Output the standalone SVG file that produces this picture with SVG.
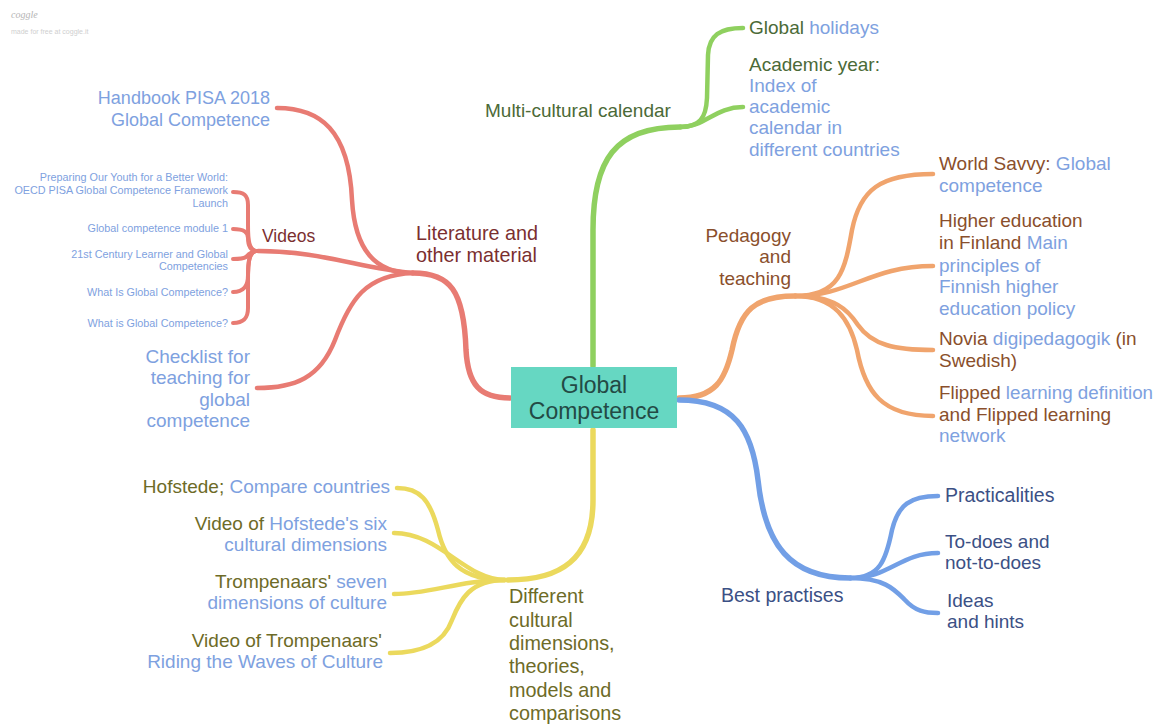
<svg xmlns="http://www.w3.org/2000/svg" width="1155" height="724" viewBox="0 0 1155 724">
<style>
text{font-family:"Liberation Sans",Arial,sans-serif;font-size:19px}
.c{fill:none;stroke-linecap:round;stroke-linejoin:round}
.m{stroke-width:5.5}
.s{stroke-width:4.5}
.r{stroke:#e87b73}
.g{stroke:#8fd05f}
.o{stroke:#f0a46d}
.b{stroke:#729fe6}
.y{stroke:#ebd95d}
.lk{fill:#7ea1e0}
.tr{fill:#7b2f2f}
.tg{fill:#4b6a37}
.to{fill:#8a4f2c}
.tb{fill:#3b5085}
.ty{fill:#6d6b27}
.e{text-anchor:end}
.sm{font-size:10.8px}
</style>
<rect width="1155" height="724" fill="#ffffff"/>
<g id="logo">
<text x="11" y="18" style="font-size:10px;font-style:italic;fill:#b5b5b5;font-family:'Liberation Serif',serif">coggle</text>
<text x="11" y="34" style="font-size:7px;fill:#cfcfcf">made for free at coggle.it</text>
</g>
<g id="connectors">
<path class="c m g" d="M593,366 L593,230 C593,160 615,127 680,127"/>
<path class="c s g" d="M680,127 C700,127 706,118 707,98 L708,55 C709,35 720,28 743,28"/>
<path class="c s g" d="M680,127 C705,127 715,107 743,107"/>
<path class="c m o" d="M679,398 C715,398 725,380 732,350 C740,310 755,296 795,296"/>
<path class="c s o" d="M795,296 C840,296 845,270 852,230 C860,190 880,174 933,174"/>
<path class="c s o" d="M795,296 C850,296 870,266 933,266"/>
<path class="c s o" d="M795,296 C835,296 848,310 858,325 C872,345 895,350 933,350"/>
<path class="c s o" d="M795,296 C835,296 850,320 857,350 C865,392 882,416 933,416"/>
<path class="c m b" d="M679,400 C735,400 752,430 758,480 C765,545 790,578 850,578"/>
<path class="c s b" d="M850,578 C880,578 886,560 892,530 C898,505 910,496 938,496"/>
<path class="c s b" d="M850,578 C890,578 900,553 938,553"/>
<path class="c s b" d="M850,578 C885,578 895,590 905,600 C915,611 925,613 938,613"/>
<path class="c m y" d="M593,430 L593,500 C593,560 560,580 508,580"/>
<path class="c s y" d="M505,580 C460,580 445,560 438,530 C430,500 420,488 397,488"/>
<path class="c s y" d="M505,580 C465,580 440,533 394,533"/>
<path class="c s y" d="M505,580 C460,580 430,594 394,594"/>
<path class="c s y" d="M505,580 C470,580 460,600 452,620 C443,645 420,653 390,653"/>
<path class="c m r" d="M510,398 C480,398 468,385 466,350 C464,290 450,273 413,273"/>
<path class="c s r" d="M413,273 C375,273 355,250 352,200 C349,130 320,108 277,108"/>
<path class="c s r" d="M413,273 C360,268 320,251 258,251"/>
<path class="c s r" d="M413,273 C365,275 350,300 335,340 C320,378 295,388 257,388"/>
<path class="c r" stroke-width="4" d="M256,251 C249,250 248,240 248,225 L248,205 C248,195 244,192 233,192"/>
<path class="c r" stroke-width="4" d="M256,251 C249,250 248,244 248,238 C248,232 244,229 233,229"/>
<path class="c r" stroke-width="4" d="M256,251 C250,252 248,255 246,257 C243,259 238,259 233,259"/>
<path class="c r" stroke-width="4" d="M256,251 C249,252 248,262 248,275 C248,286 244,292 233,292"/>
<path class="c r" stroke-width="4" d="M256,251 C249,252 248,262 248,280 L248,308 C248,318 244,323 233,323"/>
</g>
<g id="center">
<rect x="511" y="367" width="166" height="61" fill="#66d7c2"/>
<text x="594" y="393" text-anchor="middle" style="font-size:23px;fill:#234a45">Global</text>
<text x="594" y="419" text-anchor="middle" style="font-size:23px;fill:#234a45">Competence</text>
</g>
<g id="multicultural-calendar">
<text x="485" y="117" class="tg">Multi-cultural calendar</text>
</g>
<g id="global-holidays">
<text x="749" y="34" class="tg">Global <tspan class="lk">holidays</tspan></text>
</g>
<g id="academic-year">
<text x="749" y="71" class="tg">Academic year:</text>
<text x="749" y="92" class="lk">Index of</text>
<text x="749" y="113" class="lk">academic</text>
<text x="749" y="134" class="lk">calendar in</text>
<text x="749" y="156" class="lk">different countries</text>
</g>
<g id="pedagogy">
<text x="791" y="242" class="to e">Pedagogy</text>
<text x="791" y="263" class="to e">and</text>
<text x="791" y="285" class="to e">teaching</text>
</g>
<g id="world-savvy">
<text x="939" y="170" class="to">World Savvy: <tspan class="lk">Global</tspan></text>
<text x="939" y="192" class="lk">competence</text>
</g>
<g id="higher-education">
<text x="939" y="227" class="to">Higher education</text>
<text x="939" y="249" class="to">in Finland <tspan class="lk">Main</tspan></text>
<text x="939" y="272" class="lk">principles of</text>
<text x="939" y="293" class="lk">Finnish higher</text>
<text x="939" y="315" class="lk">education policy</text>
</g>
<g id="novia">
<text x="939" y="345" class="to">Novia <tspan class="lk">digipedagogik</tspan> (in</text>
<text x="939" y="367" class="to">Swedish)</text>
</g>
<g id="flipped">
<text x="939" y="399" class="to" style="font-size:18.8px">Flipped <tspan class="lk">learning definition</tspan></text>
<text x="939" y="421" class="to">and Flipped learning</text>
<text x="939" y="442" class="lk">network</text>
</g>
<g id="best-practises">
<text x="721" y="602" class="tb" style="font-size:19.5px">Best practises</text>
</g>
<g id="practicalities">
<text x="945" y="502" class="tb" style="font-size:19.5px">Practicalities</text>
</g>
<g id="to-does">
<text x="945" y="548" class="tb">To-does and</text>
<text x="945" y="569" class="tb">not-to-does</text>
</g>
<g id="ideas">
<text x="947" y="607" class="tb">Ideas</text>
<text x="947" y="628" class="tb">and hints</text>
</g>
<g id="cultural-dimensions">
<text x="509" y="603" class="ty" style="font-size:19.8px">Different</text>
<text x="509" y="627" class="ty" style="font-size:19.8px">cultural</text>
<text x="509" y="650" class="ty" style="font-size:19.8px">dimensions,</text>
<text x="509" y="673" class="ty" style="font-size:19.8px">theories,</text>
<text x="509" y="697" class="ty" style="font-size:19.8px">models and</text>
<text x="509" y="720" class="ty" style="font-size:19.8px">comparisons</text>
</g>
<g id="hofstede">
<text x="390" y="493" class="ty e">Hofstede; <tspan class="lk">Compare countries</tspan></text>
</g>
<g id="video-hofstede">
<text x="387" y="530" class="ty e">Video of <tspan class="lk">Hofstede's six</tspan></text>
<text x="387" y="551" class="lk e">cultural dimensions</text>
</g>
<g id="trompenaars">
<text x="387" y="588" class="ty e">Trompenaars' <tspan class="lk">seven</tspan></text>
<text x="387" y="609" class="lk e">dimensions of culture</text>
</g>
<g id="video-trompenaars">
<text x="382" y="647" class="ty e">Video of Trompenaars'</text>
<text x="383" y="668" class="lk e">Riding the Waves of Culture</text>
</g>
<g id="literature">
<text x="416" y="240" class="tr" style="font-size:19.8px">Literature and</text>
<text x="416" y="262" class="tr" style="font-size:19.8px">other material</text>
</g>
<g id="handbook">
<text x="270" y="104" class="lk e" style="font-size:18px">Handbook PISA 2018</text>
<text x="270" y="126" class="lk e" style="font-size:18px">Global Competence</text>
</g>
<g id="videos">
<text x="262" y="242" class="tr" style="font-size:17.5px">Videos</text>
</g>
<g id="video-1">
<text x="228" y="181" class="lk e sm">Preparing Our Youth for a Better World:</text>
<text x="228" y="194" class="lk e sm">OECD PISA Global Competence Framework</text>
<text x="228" y="207" class="lk e sm">Launch</text>
</g>
<g id="video-2">
<text x="228" y="232" class="lk e sm">Global competence module 1</text>
</g>
<g id="video-3">
<text x="228" y="258" class="lk e sm">21st Century Learner and Global</text>
<text x="228" y="270" class="lk e sm">Competencies</text>
</g>
<g id="video-4">
<text x="228" y="296" class="lk e sm">What Is Global Competence?</text>
</g>
<g id="video-5">
<text x="228" y="327" class="lk e sm">What is Global Competence?</text>
</g>
<g id="checklist">
<text x="250" y="363" class="lk e">Checklist for</text>
<text x="250" y="384" class="lk e">teaching for</text>
<text x="250" y="406" class="lk e">global</text>
<text x="250" y="427" class="lk e">competence</text>
</g>
</svg>
